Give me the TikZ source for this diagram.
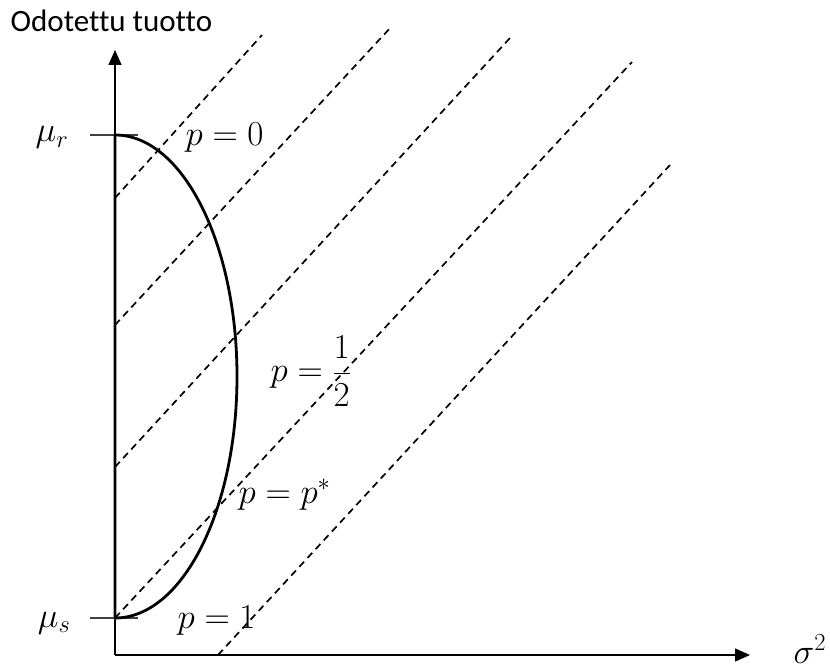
\RequirePackage{fix-cm}
\documentclass[tikz,border=0pt]{standalone}
\usepackage{fontspec}
\newfontfamily\axisfont[Ligatures=NoCommon]{Carlito}
\usetikzlibrary{arrows.meta}
\tikzset{
  axis line/.style={
    draw=black, line width=1.4pt, -{Triangle[length=15pt,width=13pt]}
  },
  tick line/.style={
    draw=black!75, line width=1.4pt
  },
  frontier/.style={
    draw=black, line width=2.8pt
  },
  iso line/.style={
    draw=black, line width=1.7pt, dash pattern=on 7pt off 5pt
  },
  math label/.style={
    inner sep=0pt, font=\fontsize{35}{42}\selectfont
  },
  text label/.style={
    inner sep=0pt, font=\axisfont\fontsize{31}{36}\selectfont
  }
}

\begin{document}
\begin{tikzpicture}[x=1pt, y=1pt, line width=1.4pt]
\useasboundingbox (0,0) rectangle (830,670);

% ---------------------------
% akselit
% ---------------------------
\coordinate (O) at (115,15);
\coordinate (Ytop) at (115,620);
\coordinate (Xend) at (750,15);
\draw[axis line] (O) -- (Ytop);
\draw[axis line] (O) -- (Xend);

\node[text label, anchor=base west] (ylab) at (10,638) {Odotettu tuotto};
\node[math label, anchor=base west] (xlab) at (793,7) {$\sigma^2$};

% ---------------------------
% samanhyotyisyyssuorat
% ---------------------------
\foreach \sx/\sy/\ex/\ey [count=\i] in {115/472/262/635, 115/345/392/644,
    115/203/510/632, 115/52/632/608, 218/15/670/505}{
  \coordinate (iso\i a) at (\sx,\sy);
  \coordinate (iso\i b) at (\ex,\ey);
  \draw[iso line] (iso\i a) -- (iso\i b);
}

% ---------------------------
% tehokas reuna
% ---------------------------
\coordinate (mur) at (115,535);
\coordinate (mus) at (115,52);
\draw[tick line] ([xshift=-25pt]mur) -- ([xshift=23pt]mur);
\draw[tick line] ([xshift=-25pt]mus) -- ([xshift=23pt]mus);

\draw[frontier] (mus) -- (mur)
  arc[start angle=90, end angle=-90, x radius=122, y radius=241.5];

\node[math label, anchor=base east] (mur label) at (69,528) {$\mu_r$};
\node[math label, anchor=base east] (mus label) at (71,43) {$\mu_s$};

\node[math label, anchor=base west] (p0) at (185,524) {$p=0$};
\node[math label, anchor=base west] (phalf) at (270,288) {$p=\displaystyle\frac{1}{2}$};
\node[math label, anchor=base west] (pstar) at (238,167) {$p=p^{*}$};
\node[math label, anchor=base west] (p1) at (177,42) {$p=1$};

%
\end{tikzpicture}
\end{document}
